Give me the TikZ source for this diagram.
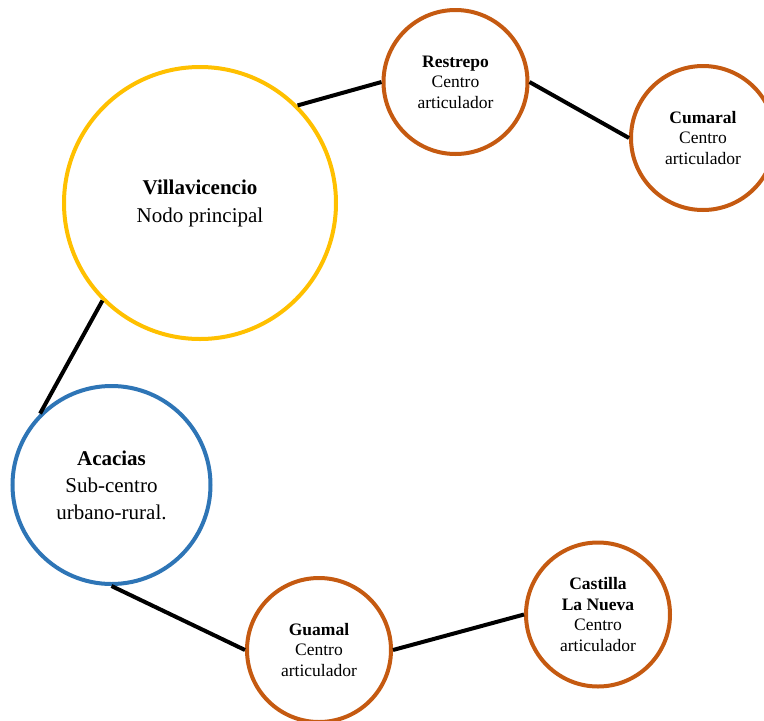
\documentclass[tikz,border=0pt]{standalone}
\usepackage{fontspec}
\setmainfont{Liberation Serif}
\definecolor{villay}{HTML}{FFC000}
\definecolor{nodeor}{HTML}{C55A11}
\definecolor{nodebl}{HTML}{2E75B6}
\begin{document}
\begin{tikzpicture}[x=1pt,y=-1pt,
  city/.style={circle,draw,line width=4pt,inner sep=0pt,align=center,fill=white,text=black},
  bigtxt/.style={font=\fontsize{21}{28}\selectfont},
  acatxt/.style={font=\fontsize{21}{27}\selectfont},
  smalltxt/.style={font=\fontsize{17.5}{20.5}\selectfont},
  link/.style={line width=4pt,black}]
\useasboundingbox (0,0) rectangle (764,721);
\node[city,draw=villay,minimum size=272pt,bigtxt] (villa) at (200,203) {\textbf{Villavicencio}\\Nodo principal};
\node[city,draw=nodeor,minimum size=144pt,smalltxt] (restrepo) at (455.5,82) {\textbf{Restrepo}\\Centro\\articulador};
\node[city,draw=nodeor,minimum size=144pt,smalltxt] (cumaral) at (703,138) {\textbf{Cumaral}\\Centro\\articulador};
\node[city,draw=nodebl,minimum size=198pt,acatxt] (acacias) at (111.5,485) {\textbf{Acacias}\\Sub-centro\\urbano-rural.};
\node[city,draw=nodeor,minimum size=144pt,smalltxt] (guamal) at (319,650) {\textbf{Guamal}\\Centro\\articulador};
\node[city,draw=nodeor,minimum size=144pt,smalltxt] (castilla) at (598,614.5) {\textbf{Castilla}\\\textbf{La Nueva}\\Centro\\articulador};
\draw[link] (villa.45) -- (restrepo.180);
\draw[link] (restrepo.0) -- (cumaral.180);
\draw[link] (villa.225) -- (acacias.135);
\draw[link] (acacias.270) -- (guamal.180);
\draw[link] (guamal.0) -- (castilla.180);
\end{tikzpicture}
\end{document}
